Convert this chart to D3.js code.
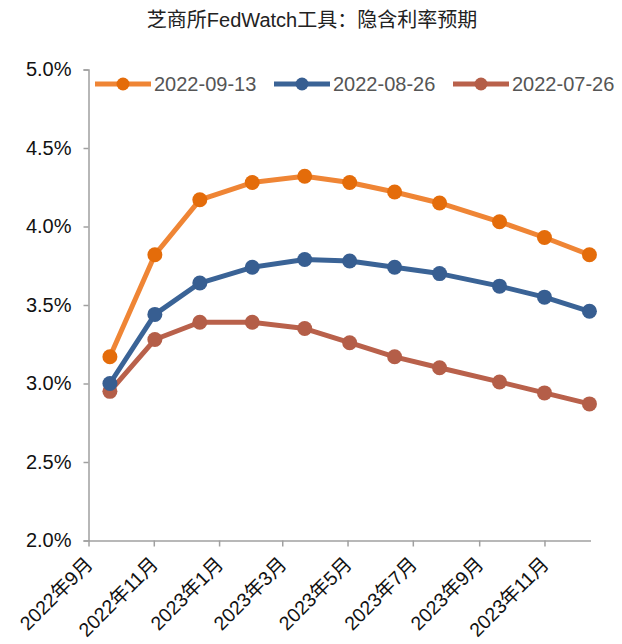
<!DOCTYPE html>
<html>
<head>
<meta charset="utf-8">
<script src="https://cdn.jsdelivr.net/npm/d3@7"></script>
<style>
    body { margin: 0; background: #fff; }
    text { font-family: "Liberation Sans", Arial, "Noto Sans CJK SC", sans-serif; }
</style>
</head>
<body>
<div id="chart"></div>
<script>
// FOMC meeting dates
var meetings = ["2022-09-21", "2022-11-02", "2022-12-14", "2023-02-01", "2023-03-22", "2023-05-03",
    "2023-06-14", "2023-07-26", "2023-09-20", "2023-11-01", "2023-12-13"];

var seriesNames = ["2022-09-13", "2022-08-26", "2022-07-26"];
var rates0913 = [3.17, 3.82, 4.17, 4.28, 4.32, 4.28, 4.22, 4.15, 4.03, 3.93, 3.82];
var rates0826 = [3.00, 3.44, 3.64, 3.74, 3.79, 3.78, 3.74, 3.70, 3.62, 3.55, 3.46];
var rates0726 = [2.95, 3.28, 3.39, 3.39, 3.35, 3.26, 3.17, 3.10, 3.01, 2.94, 2.87];

var yTicks = [2.0, 2.5, 3.0, 3.5, 4.0, 4.5, 5.0];
var xTickLabels = ["2022年9月", "2022年11月", "2023年1月", "2023年3月", "2023年5月", "2023年7月", "2023年9月", "2023年11月"];

var lineCol = ["#ef8535", "#3a6396", "#b9614b"];
var dotCol = ["#e46c0a", "#375e91", "#b45e48"];

var parseDate = d3.timeParse("%Y-%m-%d");
var series = [rates0913, rates0826, rates0726].map(function(vals, i) {
    return {
        name: seriesNames[i],
        values: vals.map(function(v, j) { return { date: parseDate(meetings[j]), rate: v }; })
    };
});

var width = 622, height = 644;
var svg = d3.select("#chart").append("svg")
    .attr("width", width)
    .attr("height", height);

//Scales
var xScale = d3.scaleTime()
    .domain([new Date(2022, 8, 1), new Date(2023, 11, 14)])
    .range([88.5, 590.5]);
var yScale = d3.scaleLinear()
    .domain([2.0, 5.0])
    .range([540.5, 69.5]);

//Title
svg.append("text")
    .attr("x", 312)
    .attr("y", 27)
    .attr("text-anchor", "middle")
    .style("font-size", "20px")
    .style("fill", "#222")
    .text("芝商所FedWatch工具：隐含利率预期");

//Y axis
var yAxis = d3.axisLeft(yScale)
    .tickValues(yTicks)
    .tickSize(5)
    .tickFormat(function(d) { return d3.format(".1f")(d) + "%"; });
var gy = svg.append("g")
    .attr("class", "y-axis")
    .attr("transform", "translate(88.5,0)")
    .call(yAxis);
gy.select(".domain").attr("stroke", "#a0a0a0").attr("stroke-width", 1.5);
gy.selectAll(".tick line").attr("stroke", "#a0a0a0").attr("stroke-width", 1.5);
gy.selectAll("text")
    .attr("x", -17)
    .style("font-size", "20px")
    .style("fill", "#111");

//X axis
var xTickDates = xTickLabels.map(function(d, i) { return new Date(2022, 8 + i * 2, 1); });
var xAxis = d3.axisBottom(xScale)
    .tickValues(xTickDates)
    .tickSize(6)
    .tickSizeOuter(0)
    .tickFormat(function(d, i) { return xTickLabels[i]; });
var gx = svg.append("g")
    .attr("class", "x-axis")
    .attr("transform", "translate(0,540.5)")
    .call(xAxis);
gx.select(".domain").attr("stroke", "#a0a0a0").attr("stroke-width", 1.5);
gx.selectAll(".tick line").attr("stroke", "#a0a0a0").attr("stroke-width", 1.5);
gx.selectAll("text")
    .style("text-anchor", "end")
    .style("font-size", "19.5px")
    .style("fill", "#111")
    .attr("x", 0)
    .attr("y", 0)
    .attr("dy", 0)
    .attr("transform", "translate(5,25) rotate(-45)");

//Lines and markers
var line = d3.line()
    .x(function(d) { return xScale(d.date); })
    .y(function(d) { return yScale(d.rate); });

var groups = svg.selectAll(".series")
    .data(series.slice().reverse())
    .enter()
    .append("g")
    .attr("class", "series");

groups.append("path")
    .attr("d", function(d) { return line(d.values); })
    .attr("fill", "none")
    .attr("stroke", function(d) { return lineCol[seriesNames.indexOf(d.name)]; })
    .attr("stroke-width", 5)
    .attr("stroke-linejoin", "round");

groups.selectAll("circle")
    .data(function(d) { return d.values.map(function(v) { return { v: v, name: d.name }; }); })
    .enter()
    .append("circle")
    .attr("cx", function(d) { return xScale(d.v.date); })
    .attr("cy", function(d) { return yScale(d.v.rate); })
    .attr("r", 7.5)
    .style("fill", function(d) { return dotCol[seriesNames.indexOf(d.name)]; });

//Legend
var legendX = [95, 274, 453];
var legend = svg.selectAll(".legend")
    .data(seriesNames)
    .enter()
    .append("g")
    .attr("class", "legend")
    .attr("transform", function(d, i) { return "translate(" + legendX[i] + ",84)"; });
legend.append("line")
    .attr("x1", 0)
    .attr("x2", 56)
    .attr("stroke", function(d, i) { return lineCol[i]; })
    .attr("stroke-width", 5);
legend.append("circle")
    .attr("cx", 28)
    .attr("r", 6.5)
    .style("fill", function(d, i) { return dotCol[i]; });
legend.append("text")
    .attr("x", 59)
    .attr("y", 7)
    .style("font-size", "20px")
    .style("fill", "#555")
    .text(function(d) { return d; });
</script>
</body>
</html>
